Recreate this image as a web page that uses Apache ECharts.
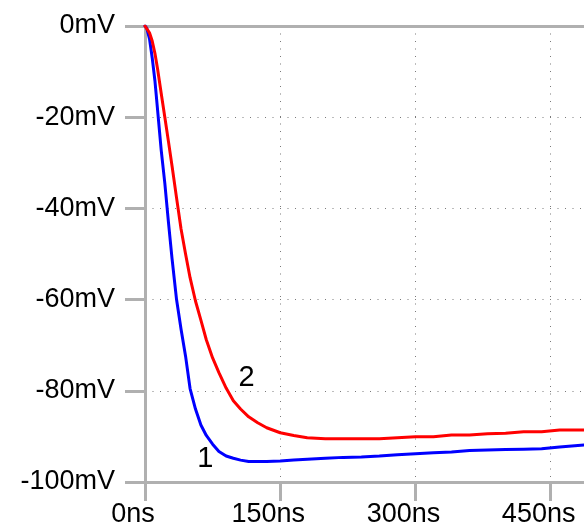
<!DOCTYPE html>
<html>
<head>
<meta charset="utf-8">
<script src="https://cdn.jsdelivr.net/npm/echarts@6/dist/echarts.min.js"></script>
<style>
  html, body { margin: 0; padding: 0; background: #fff; }
  #chart { width: 584px; height: 531px; }
</style>
</head>
<body>
<div id="chart"></div>
<script>
// Sample times (ns) shared by both traces
const timeNs = [0, 2, 5, 8, 11, 14, 18, 22, 26, 30, 35, 40, 45, 50, 56, 62, 68, 75, 82, 90,
  98, 106, 115, 125, 135, 150, 165, 180, 200, 220, 240, 260, 280, 300, 320, 340, 360,
  380, 400, 420, 440, 460, 487];

// Trace 1 (blue), mV
const trace1 = [0, -0.5, -2.8, -7, -12, -18.5, -27.3, -34.5, -43, -51, -60, -66.5, -72.4, -79.5,
  -84, -87.5, -89.8, -91.7, -93.3, -94.3, -94.8, -95.2, -95.5, -95.5, -95.5, -95.4, -95.2,
  -95, -94.8, -94.6, -94.5, -94.3, -94.0, -93.8, -93.6, -93.4, -93.1, -93.0, -92.9, -92.8,
  -92.7, -92.3, -91.9];

// Trace 2 (red), mV
const trace2 = [0, -0.3, -1.5, -3.3, -6, -9.5, -14.8, -20, -25.3, -30.7, -37.7, -44.5, -50,
  -55.2, -60.3, -64.5, -68.8, -72.8, -76, -79.4, -82.2, -84, -85.7, -87, -88.1, -89.2, -89.8,
  -90.3, -90.5, -90.5, -90.5, -90.5, -90.3, -90.1, -90.1, -89.7, -89.7, -89.4, -89.3, -89.0,
  -89.0, -88.6, -88.6];

// Axis ticks
const xTicks = [0, 150, 300, 450];
const yTicks = [0, -20, -40, -60, -80, -100];

// Trace name tags placed in data space
const tag1 = { text: '1', t: 67, v: -95 };
const tag2 = { text: '2', t: 112.6, v: -77.2 };

const FONT = 'Liberation Sans, Arial, sans-serif';
const AXIS_GRAY = '#b0b0b0';
const GRID_GRAY = '#7a7a7a';

const pairs = (ys) => timeNs.map((t, i) => [t, ys[i]]);

const chart = echarts.init(document.getElementById('chart'), null, { renderer: 'canvas' });

chart.setOption({
  animation: false,
  backgroundColor: '#ffffff',
  grid: { left: 145, right: 0, top: 26, bottom: 49, containLabel: false },
  xAxis: [{
    type: 'value',
    min: 0,
    max: 487,
    interval: 150,
    position: 'bottom',
    axisLine: { show: true, onZero: false, lineStyle: { color: AXIS_GRAY, width: 3 } },
    axisTick: { show: true, inside: false, length: 19, customValues: xTicks,
      lineStyle: { color: AXIS_GRAY, width: 3 } },
    axisLabel: {
      customValues: xTicks,
      formatter: (v) => v + 'ns',
      fontFamily: FONT, fontSize: 27, color: '#000',
      margin: 19,
      padding: [0, 24, 0, 0]
    },
    splitLine: { show: true, lineStyle: { color: GRID_GRAY, width: 1, type: [1, 6.5] } }
  }, {
    type: 'value',
    min: 0,
    max: 487,
    position: 'top',
    axisLine: { show: true, onZero: false, lineStyle: { color: AXIS_GRAY, width: 3 } },
    axisTick: { show: false },
    axisLabel: { show: false },
    splitLine: { show: false }
  }],
  yAxis: {
    type: 'value',
    min: -100,
    max: 0,
    interval: 20,
    axisLine: { show: true, onZero: false, lineStyle: { color: AXIS_GRAY, width: 3 } },
    axisTick: { show: true, inside: false, length: 20, customValues: yTicks,
      lineStyle: { color: AXIS_GRAY, width: 3 } },
    axisLabel: {
      customValues: yTicks,
      formatter: (v) => v + 'mV',
      fontFamily: FONT, fontSize: 27, color: '#000',
      margin: 30
    },
    splitLine: { show: true, lineStyle: { color: GRID_GRAY, width: 1, type: [1, 6.5] } }
  },
  series: [{
    name: '1',
    type: 'line',
    data: pairs(trace1),
    showSymbol: false,
    smooth: false,
    lineStyle: { color: '#0000ff', width: 3, join: 'round', cap: 'round' },
    itemStyle: { color: '#0000ff' },
    markPoint: {
      symbol: 'circle', symbolSize: 0,
      label: { show: true, position: 'inside', formatter: tag1.text,
        fontFamily: FONT, fontSize: 29, color: '#000' },
      data: [{ coord: [tag1.t, tag1.v] }]
    }
  }, {
    name: '2',
    type: 'line',
    data: pairs(trace2),
    showSymbol: false,
    smooth: false,
    lineStyle: { color: '#ff0000', width: 3, join: 'round', cap: 'round' },
    itemStyle: { color: '#ff0000' },
    markPoint: {
      symbol: 'circle', symbolSize: 0,
      label: { show: true, position: 'inside', formatter: tag2.text,
        fontFamily: FONT, fontSize: 29, color: '#000' },
      data: [{ coord: [tag2.t, tag2.v] }]
    }
  }]
});
</script>
</body>
</html>
